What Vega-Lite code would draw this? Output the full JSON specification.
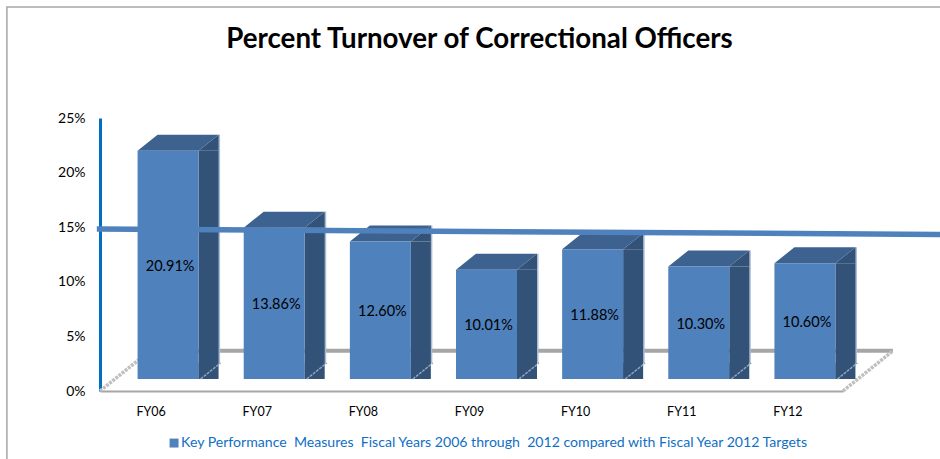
{
"$schema":"https://vega.github.io/schema/vega-lite/v6.json",
"autosize":{"type":"none"},
"padding":{"left":100,"top":118,"right":97,"bottom":68},
"width":743,"height":273,
"background":"white",
"view":{"stroke":null},
"config":{"font":"Lato"},
"title":{"text":"Percent Turnover of Correctional Officers","anchor":"middle","frame":"group","dx":8,"offset":-50,"fontSize":27.7,"fontWeight":"bold","font":"Lato","color":"#000000"},
"datasets":{
"bars":[
{"fy":"FY06","pct":20.91,"label":"20.91%","series":"Key Performance\u00a0\u00a0Measures\u00a0\u00a0Fiscal Years 2006 through\u00a0\u00a02012 compared with Fiscal Year 2012 Targets"},
{"fy":"FY07","pct":13.86,"label":"13.86%","series":"Key Performance\u00a0\u00a0Measures\u00a0\u00a0Fiscal Years 2006 through\u00a0\u00a02012 compared with Fiscal Year 2012 Targets"},
{"fy":"FY08","pct":12.60,"label":"12.60%","series":"Key Performance\u00a0\u00a0Measures\u00a0\u00a0Fiscal Years 2006 through\u00a0\u00a02012 compared with Fiscal Year 2012 Targets"},
{"fy":"FY09","pct":10.01,"label":"10.01%","series":"Key Performance\u00a0\u00a0Measures\u00a0\u00a0Fiscal Years 2006 through\u00a0\u00a02012 compared with Fiscal Year 2012 Targets"},
{"fy":"FY10","pct":11.88,"label":"11.88%","series":"Key Performance\u00a0\u00a0Measures\u00a0\u00a0Fiscal Years 2006 through\u00a0\u00a02012 compared with Fiscal Year 2012 Targets"},
{"fy":"FY11","pct":10.30,"label":"10.30%","series":"Key Performance\u00a0\u00a0Measures\u00a0\u00a0Fiscal Years 2006 through\u00a0\u00a02012 compared with Fiscal Year 2012 Targets"},
{"fy":"FY12","pct":10.60,"label":"10.60%","series":"Key Performance\u00a0\u00a0Measures\u00a0\u00a0Fiscal Years 2006 through\u00a0\u00a02012 compared with Fiscal Year 2012 Targets"}
],
"frame":[{"pos":-0.877,"pct":-6.3},{"pos":-0.877,"pct":35.16},{"pos":8,"pct":35.16}],
"floor":[{"pos":0.47,"pct":3.68},{"pos":7.47,"pct":3.68}],
"diagonalLeft":[{"pos":0,"pct":0},{"pos":0.47,"pct":3.68}],
"diagonalRight":[{"pos":7,"pct":0},{"pos":7.47,"pct":3.68}],
"target":[{"pos":-0.03,"pct":14.84},{"pos":8,"pct":14.33}]
},
"resolve":{"scale":{"x":"independent","y":"independent","color":"independent"},"axis":{"x":"independent","y":"independent"}},
"layer":[
{"data":{"name":"frame"},"mark":{"type":"line","stroke":"#A6A6A6","strokeWidth":1.5,"clip":false},
"encoding":{"x":{"field":"pos","type":"quantitative","scale":{"domain":[0,7],"nice":false,"zero":false},"axis":null},"y":{"field":"pct","type":"quantitative","scale":{"domain":[0,25],"nice":false},"axis":null},"order":{"field":"pos","type":"ordinal"}}},
{"data":{"name":"floor"},"mark":{"type":"line","stroke":"#A6A6A6","strokeWidth":4},
"encoding":{"x":{"field":"pos","type":"quantitative","scale":{"domain":[0,7],"nice":false,"zero":false},"axis":null},"y":{"field":"pct","type":"quantitative","scale":{"domain":[0,25],"nice":false},"axis":null}}},
{"data":{"name":"diagonalLeft"},"mark":{"type":"line","stroke":"#BFBFBF","strokeWidth":3.5,"strokeDash":[3,1]},
"encoding":{"x":{"field":"pos","type":"quantitative","scale":{"domain":[0,7],"nice":false,"zero":false},"axis":null},"y":{"field":"pct","type":"quantitative","scale":{"domain":[0,25],"nice":false},"axis":null}}},
{"data":{"name":"diagonalRight"},"mark":{"type":"line","stroke":"#BFBFBF","strokeWidth":3.5,"strokeDash":[3,1]},
"encoding":{"x":{"field":"pos","type":"quantitative","scale":{"domain":[0,7],"nice":false,"zero":false},"axis":null},"y":{"field":"pct","type":"quantitative","scale":{"domain":[0,25],"nice":false},"axis":null}}},
{"data":{"name":"bars"},"mark":{"type":"bar","size":2,"xOffset":66,"yOffset":-28,"y2Offset":-28,"fill":"#A9BBD3"},
"encoding":{"x":{"field":"fy","type":"nominal","scale":{"type":"band","paddingInner":0,"paddingOuter":0},"axis":null},"y":{"field":"pct","type":"quantitative","scale":{"domain":[0,25],"nice":false},"axis":null}}},
{"data":{"name":"bars"},"mark":{"type":"bar","size":20,"xOffset":55.5,"yOffset":-12,"y2Offset":-28,"fill":"#335278"},
"encoding":{"x":{"field":"fy","type":"nominal","scale":{"type":"band","paddingInner":0,"paddingOuter":0},"axis":null},"y":{"field":"pct","type":"quantitative","scale":{"domain":[0,25],"nice":false},"axis":null}}},
{"data":{"name":"bars"},"mark":{"type":"point","shape":"M45.5,-12L65.5,-28L65.5,-12Z","size":4,"filled":true,"fill":"#335278","opacity":1},
"encoding":{"x":{"field":"fy","type":"nominal","scale":{"type":"point","padding":0.5},"axis":null},"y":{"field":"pct","type":"quantitative","scale":{"domain":[0,25],"nice":false},"axis":null}}},
{"data":{"name":"bars"},"mark":{"type":"point","shape":"M45.5,-12L65.5,-28L45.5,-28Z","size":4,"filled":true,"fill":"#335278","opacity":1},
"encoding":{"x":{"field":"fy","type":"nominal","scale":{"type":"point","padding":0.5},"axis":null},"y":{"datum":0,"type":"quantitative","scale":{"domain":[0,25],"nice":false},"axis":null}}},
{"data":{"name":"bars"},"mark":{"type":"point","shape":"M47.5,-12L67.5,-28","size":4,"filled":false,"stroke":"#8FA5C2","strokeWidth":1.5,"strokeDash":[3,1],"opacity":1},
"encoding":{"x":{"field":"fy","type":"nominal","scale":{"type":"point","padding":0.5},"axis":null},"y":{"datum":0,"type":"quantitative","scale":{"domain":[0,25],"nice":false},"axis":null}}},
{"data":{"name":"bars"},"mark":{"type":"point","shape":"M-15.5,-12L4.5,-28L65.5,-28L45.5,-12Z","size":4,"filled":true,"fill":"#3D628F","opacity":1},
"encoding":{"x":{"field":"fy","type":"nominal","scale":{"type":"point","padding":0.5},"axis":null},"y":{"field":"pct","type":"quantitative","scale":{"domain":[0,25],"nice":false},"axis":null}}},
{"data":{"name":"bars"},"mark":{"type":"bar","size":61,"xOffset":15,"yOffset":-12,"y2Offset":-12},
"encoding":{
"x":{"field":"fy","type":"nominal","scale":{"type":"band","paddingInner":0,"paddingOuter":0},
"axis":{"title":null,"labelAngle":0,"labelFontSize":12.5,"labelColor":"#000000","labelPadding":14,"labelOffset":-2,"ticks":false,"domainColor":"#A6A6A6","domainWidth":2}},
"y":{"field":"pct","type":"quantitative","scale":{"domain":[0,25],"nice":false},
"axis":{"title":null,"values":[0,5,10,15,20,25],"format":".0f","labelExpr":"datum.label + '%'","labelFontSize":14,"labelColor":"#000000","labelPadding":15,"ticks":false,"grid":false,"domainColor":"#0070C0","domainWidth":3}},
"color":{"field":"series","type":"nominal","scale":{"range":["#4F81BD"]},
"legend":{"title":null,"orient":"none","legendX":67,"legendY":318,"symbolType":"square","symbolSize":80,"symbolStrokeWidth":0,"labelFontSize":14.1,"labelColor":"#0F6FC6","labelLimit":700,"labelOffset":0}}
}},
{"data":{"name":"target"},"mark":{"type":"line","stroke":"#4F81BD","strokeWidth":5.5,"clip":false},
"encoding":{"x":{"field":"pos","type":"quantitative","scale":{"domain":[0,7],"nice":false,"zero":false},"axis":null},"y":{"field":"pct","type":"quantitative","scale":{"domain":[0,25],"nice":false},"axis":null}}},
{"data":{"name":"bars"},"mark":{"type":"text","fontSize":14.5,"color":"#000000","xOffset":17,"yOffset":-10,"baseline":"middle"},
"encoding":{"x":{"field":"fy","type":"nominal","scale":{"type":"point","padding":0.5},"axis":null},"y":{"field":"pct","type":"quantitative","scale":{"domain":[0,50],"nice":false},"axis":null},"text":{"field":"label","type":"nominal"}}}
]
}
